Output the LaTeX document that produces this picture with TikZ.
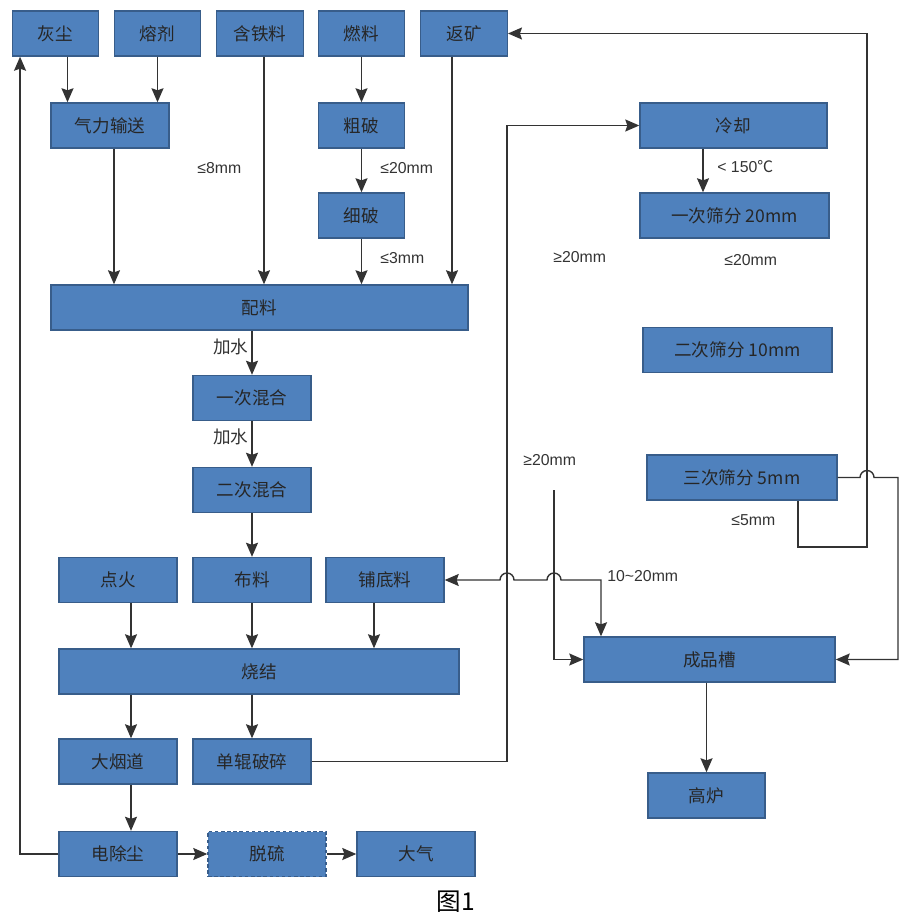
\documentclass[tikz,border=0pt]{standalone}
\usepackage{fontspec}
\setmainfont{Liberation Sans}
\newfontfamily\cjk{Noto Sans CJK SC}
\usetikzlibrary{arrows.meta}
\definecolor{boxblue}{HTML}{4F81BD}
\definecolor{boxedge}{HTML}{385D8A}
\definecolor{wire}{HTML}{333333}
\tikzset{
    %Define standard arrow tip
    >={Stealth[length=2.8mm,width=2.4mm,inset=0.4mm]},
    %Define style for boxes
    pbox/.style={
           rectangle,
           fill=boxblue,
           draw=boxedge, line width=0.8pt,
           minimum width=23.6mm,
           minimum height=9mm,
           inner sep=0pt,
           font=\cjk\fontsize{10}{12}\selectfont,
           text=black!85,
           text centered},
    dbox/.style={
           pbox,
           dash pattern=on 2pt off 1.5pt},
    % Define label style
    note/.style={
           anchor=west,
           inner sep=0pt,
           font=\fontsize{9}{11}\selectfont,
           text=black!80},
    % Define arrow style
    pil/.style={
           ->,
           draw=wire,
           line width=0.8pt}
}

\begin{document}
\begin{tikzpicture}[x=0.2mm, y=-0.2mm]
    \useasboundingbox (0,0) rectangle (921,924);

    % RAW MATERIALS
    \node[pbox, minimum width=17.3mm] at (55.5,33.5) (huichen) {灰尘};
    \node[pbox, minimum width=17.3mm] at (157.5,33.5) (rongji) {熔剂};
    \node[pbox, minimum width=17.3mm] at (260,33.5) (hantie) {含铁料};
    \node[pbox, minimum width=17.3mm] at (361.5,33.5) (ranliao) {燃料};
    \node[pbox, minimum width=17.3mm] at (464,33.5) (fankuang) {返矿};
    \node[pbox] at (110,125.5) (qili) {气力输送};
    \node[pbox, minimum width=17.3mm] at (361.5,125.5) (cupo) {粗破};
    \node[pbox, minimum width=17.3mm] at (361.5,215.5) (xipo) {细破};
    \node[pbox, minimum width=83.4mm] at (259.5,307.5) (peiliao) {配料};

    % MIXING AND SINTERING
    \node[pbox] at (252,398) (hunhe1) {一次混合};
    \node[pbox] at (252,490) (hunhe2) {二次混合};
    \node[pbox] at (118,580) (dianhuo) {点火};
    \node[pbox] at (252,580) (buliao) {布料};
    \node[pbox] at (385,580) (pudi) {铺底料};
    \node[pbox, minimum width=80mm] at (259,671.5) (shaojie) {烧结};
    \node[pbox] at (118,761.5) (yandao) {大烟道};
    \node[pbox] at (252,761.5) (danpo) {单辊破碎};
    \node[pbox] at (118,854) (chuchen) {电除尘};
    \node[dbox] at (267,854) (tuoliu) {脱硫};
    \node[pbox] at (416,854) (daqi) {大气};

    % COOLING AND SCREENING
    \node[pbox, minimum width=37.4mm] at (733.5,125.5) (lengque) {冷却};
    \node[pbox, minimum width=37.8mm] at (734.5,215.5) (shai1) {一次筛分 20mm};
    \node[pbox, minimum width=37.8mm] at (737.5,350) (shai2) {二次筛分 10mm};
    \node[pbox, minimum width=38mm] at (742,477.5) (shai3) {三次筛分 5mm};
    \node[pbox, minimum width=50.2mm] at (709.5,659.5) (chengpin) {成品槽};
    \node[pbox, minimum width=23.4mm] at (706.5,795.5) (gaolu) {高炉};

    % LABELS
    \node[note] at (197,168) (l8) {≤8mm};
    \node[note] at (380,168) (l20a) {≤20mm};
    \node[note] at (380,258) (l3) {≤3mm};
    \node[note, font=\cjk\fontsize{10}{12}\selectfont] at (213,347) (water1) {加水};
    \node[note, font=\cjk\fontsize{10}{12}\selectfont] at (213,437) (water2) {加水};
    \node[note] at (717,167) (ltemp) {< 150{\cjk ℃}};
    \node[note] at (553,257) (g20a) {≥20mm};
    \node[note] at (724,260) (l20b) {≤20mm};
    \node[note] at (523,460) (g20b) {≥20mm};
    \node[note] at (731,520) (l5) {≤5mm};
    \node[note] at (607,576) (l1020) {10\textasciitilde20mm};
    \node[font=\cjk\fontsize{14}{16}\selectfont] at (456,902) (fig) {图1};

    % FEED LINES
    \draw[pil] ([xshift=2.4mm]huichen.south) -- ([xshift=2.4mm]huichen.south |- qili.north);
    \draw[pil] (rongji.south) -- (rongji.south |- qili.north);
    \draw[pil] ([xshift=0.8mm]qili.south) -- ([xshift=0.8mm]qili.south |- peiliao.north);
    \draw[pil] ([xshift=0.8mm]hantie.south) -- ([xshift=0.8mm]hantie.south |- peiliao.north);
    \draw[pil] (ranliao) -- (cupo);
    \draw[pil] (cupo) -- (xipo);
    \draw[pil] (xipo.south) -- (xipo.south |- peiliao.north);
    \draw[pil] ([xshift=-2.4mm]fankuang.south) -- ([xshift=-2.4mm]fankuang.south |- peiliao.north);

    \draw[pil] (peiliao.south -| hunhe1) -- (hunhe1);
    \draw[pil] (hunhe1) -- (hunhe2);
    \draw[pil] (hunhe2) -- (buliao);
    \draw[pil] ([xshift=2.6mm]dianhuo.south) -- ([xshift=2.6mm]dianhuo.south |- shaojie.north);
    \draw[pil] (buliao.south) -- (buliao.south |- shaojie.north);
    \draw[pil] ([xshift=-2.2mm]pudi.south) -- ([xshift=-2.2mm]pudi.south |- shaojie.north);
    \draw[pil] ([xshift=2.6mm]yandao.north |- shaojie.south) -- ([xshift=2.6mm]yandao.north);
    \draw[pil] (shaojie.south -| danpo) -- (danpo);
    \draw[pil] ([xshift=2.6mm]yandao.south) -- ([xshift=2.6mm]chuchen.north);
    \draw[pil] (chuchen) -- (tuoliu);
    \draw[pil] (tuoliu) -- (daqi);
    \draw[pil] (chuchen.west) -| ([xshift=1.7mm]huichen.south west);

    % RETURN LINES
    \coordinate (lturn) at (507,125.5);
    \draw[pil] (danpo.east) -| (lturn) -- (lengque.west);
    \draw[pil] ([xshift=-6.1mm]lengque.south) -- ([xshift=-6.1mm]lengque.south |- shai1.north);
    \coordinate (rloop) at (867,547);
    \draw[pil] ([xshift=11.2mm]shai3.south) |- (rloop) |- (fankuang.east);
    \coordinate (rout) at (898,477.5);
    \draw[pil] (shai3.east) -- (860,477.5) arc[start angle=180, end angle=0, radius=1.4mm]
        -- (rout) |- (chengpin.east);
    \coordinate (gfree) at (554,490);
    \draw[pil] (gfree) |- (chengpin.west);
    \coordinate (mid) at (601,580);
    \draw[pil, <->] (pudi.east) -- (500,580) arc[start angle=180, end angle=0, radius=1.4mm]
        -- (547,580) arc[start angle=180, end angle=0, radius=1.4mm]
        -- (mid) -- (mid |- chengpin.north);
    \draw[pil] (chengpin.south -| gaolu) -- (gaolu);
\end{tikzpicture}
\end{document}
